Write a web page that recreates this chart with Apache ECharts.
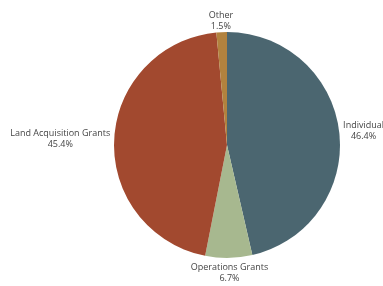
<!DOCTYPE html>
<html>
<head>
<meta charset="utf-8">
<script src="https://cdn.jsdelivr.net/npm/echarts@6/dist/echarts.min.js"></script>
<style>
  html, body { margin: 0; padding: 0; background: #fff; }
  #main { width: 383px; height: 286px; }
</style>
</head>
<body>
<div id="main"></div>
<script>
// slice order, clockwise from 12 o'clock
var categories = ['Individual', 'Operations Grants', 'Land Acquisition Grants', 'Other'];
var shares = [46.4, 6.7, 45.4, 1.5];
var colors = ['#4b6670', '#a7b88f', '#a2492f', '#b2823e'];

var cx = 227, cy = 145, r = 113, gap = 4;

// mid angle of each slice (radians, clockwise from top)
var total = shares.reduce(function (a, b) { return a + b; }, 0);
var midAngles = [];
var acc = 0;
for (var i = 0; i < shares.length; i++) {
  midAngles.push((acc + shares[i] / 2) / total * Math.PI * 2);
  acc += shares[i];
}

var chart = echarts.init(document.getElementById('main'));

chart.setOption({
  animation: false,
  color: colors,
  series: [{
    type: 'pie',
    center: [cx, cy],
    radius: r,
    startAngle: 90,
    clockwise: true,
    data: categories.map(function (c, i) { return { name: c, value: shares[i] }; }),
    label: {
      show: true,
      formatter: function (p) { return p.name + '\n' + p.value.toFixed(1) + '%'; },
      fontFamily: 'Open Sans',
      fontSize: 9,
      lineHeight: 11,
      color: '#444',
      overflow: 'none'
    },
    labelLine: { show: false, length: 0, length2: 0 },
    labelLayout: function (p) {
      var a = midAngles[p.dataIndex];
      var sx = Math.sin(a), sy = -Math.cos(a);
      var w = p.labelRect.width, h = p.labelRect.height;
      var px = cx + (r + gap) * sx, py = cy + (r + gap) * sy;
      var up = sy < 0 ? 4 * -sy : 0;
      return {
        x: px + sx * w / 2,
        y: py + sy * h / 2 + up,
        align: 'center',
        verticalAlign: 'middle'
      };
    },
    emphasis: { disabled: true }
  }]
});
</script>
</body>
</html>
